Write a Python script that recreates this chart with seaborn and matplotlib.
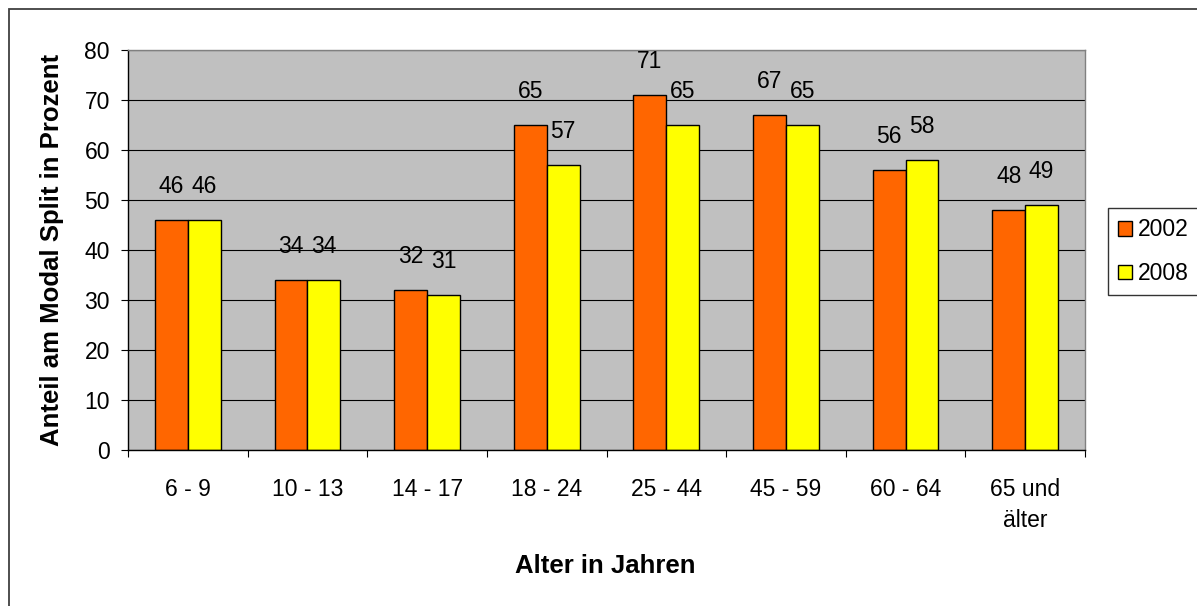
import numpy as np
import pandas as pd
import matplotlib
matplotlib.use("Agg")
import matplotlib.pyplot as plt
import seaborn as sns
from matplotlib.patches import Rectangle

# values
altersgruppen = ["6 - 9", "10 - 13", "14 - 17", "18 - 24", "25 - 44",
                 "45 - 59", "60 - 64", "65 und\nälter"]
anteil_2002 = [46, 34, 32, 65, 71, 67, 56, 48]
anteil_2008 = [46, 34, 31, 57, 65, 65, 58, 49]
jahre = ["2002", "2008"]
y_ticks = [0, 10, 20, 30, 40, 50, 60, 70, 80]

df = pd.DataFrame({
    "Alter": altersgruppen * 2,
    "Jahr": [jahre[0]] * len(altersgruppen) + [jahre[1]] * len(altersgruppen),
    "Anteil": anteil_2002 + anteil_2008,
})

sns.set_style("white")
plt.rcParams["font.family"] = ["Liberation Sans", "DejaVu Sans"]
plt.rcParams["text.color"] = "black"
plt.rcParams["xtick.color"] = "black"
plt.rcParams["ytick.color"] = "black"
plt.rcParams["axes.labelcolor"] = "black"

fig = plt.figure(figsize=(11.97, 6.06), dpi=100)
ax = fig.add_axes([128/1197, 1-450/606, 957/1197, 400/606])

sns.barplot(data=df, x="Alter", y="Anteil", hue="Jahr", ax=ax,
            palette={"2002": "#FF6600", "2008": "#FFFF00"},
            width=0.55, edgecolor="black", linewidth=1.0, saturation=1)

ax.set_facecolor("#C0C0C0")
ax.set_ylim(0, 80)
ax.set_xlim(-0.5, 7.5)
ax.set_yticks(y_ticks)
ax.set_axisbelow(True)
ax.yaxis.grid(True, color="black", linewidth=0.8)

for c in ax.containers:
    ax.bar_label(c, padding=16, fontsize=16.5, color="black")

# ticks
ax.tick_params(axis="y", direction="out", length=5, width=0.8, pad=8,
               labelsize=16.5, left=True)
ax.set_xticks(np.arange(len(altersgruppen)))
ax.set_xticklabels(altersgruppen, linespacing=1.45)
ax.set_xticks(np.arange(-0.5, len(altersgruppen)), minor=True)
ax.tick_params(axis="x", which="major", length=0, pad=20, labelsize=16.5)
ax.tick_params(axis="x", which="minor", direction="out", length=5, width=0.8,
               bottom=True)

for s in ["left", "bottom"]:
    ax.spines[s].set_color("black")
    ax.spines[s].set_linewidth(1.0)
for s in ["top", "right"]:
    ax.spines[s].set_color("#808080")
    ax.spines[s].set_linewidth(1.0)

ax.set_ylabel("Anteil am Modal Split in Prozent", fontsize=18.5,
              fontweight="bold", va="center")
ax.yaxis.set_label_coords((52-128)/957, 0.5)
ax.set_xlabel("Alter in Jahren", fontsize=18.5, fontweight="bold", va="center")
ax.xaxis.set_label_coords((605-128)/957, (450-566)/400)

handles, labels = ax.get_legend_handles_labels()
ax.get_legend().remove()
leg = fig.legend(handles, labels, loc="upper left",
                 bbox_to_anchor=(1108/1197, 1-208/606), fontsize=16.5,
                 frameon=True, fancybox=False, handlelength=0.6,
                 handleheight=0.6, handletextpad=0.25, labelspacing=0.9,
                 borderpad=0.45, borderaxespad=0)
leg.get_frame().set_edgecolor("black")
leg.get_frame().set_linewidth(1.0)

# outer chart border (cut off at right and bottom like the original)
fig.patches.append(Rectangle((9/1197, -0.1), 1.2, 1.1-9/606,
                             transform=fig.transFigure, fill=False,
                             edgecolor="#404040", linewidth=1.3))

fig.savefig("out.png", dpi=100)
